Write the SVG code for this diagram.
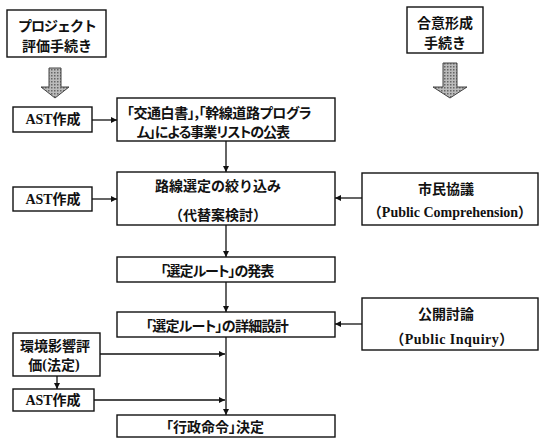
<svg xmlns="http://www.w3.org/2000/svg" width="540" height="440" viewBox="0 0 540 440">
<style>
.box{fill:#fff;stroke:#111;stroke-width:1.4}
.t{font-family:"Noto Sans CJK JP","Noto Sans CJK SC",sans-serif;font-weight:bold;font-size:14px;fill:#111;text-anchor:middle;dominant-baseline:central}
.p{font-feature-settings:"palt" 1}
.s{font-family:"Liberation Serif","Noto Sans CJK JP",serif;font-weight:bold;font-size:14px;fill:#111;text-anchor:middle;dominant-baseline:central}
.ln{stroke:#111;stroke-width:1.3;fill:none}
.garrow{fill:url(#dots);stroke:#444;stroke-width:1}
</style>
<defs>
<marker id="ah" viewBox="0 0 10 10" refX="10" refY="5" markerWidth="6" markerHeight="6" markerUnits="userSpaceOnUse" orient="auto">
<path d="M0,0 L10,5 L0,10 z" fill="#111"/>
</marker>
<pattern id="dots" width="3" height="3" patternUnits="userSpaceOnUse">
<rect width="3" height="3" fill="#bbb"/>
<rect width="1.5" height="1.5" fill="#666"/>
</pattern>
</defs>

<g id="proj">
<rect class="box" x="7" y="10" width="99" height="47"/>
<text class="t" x="57" y="25" font-size="15" letter-spacing="-1">プロジェクト</text>
<text class="t" x="57" y="45" font-size="16">評価手続き</text>
</g>
<g id="gousei">
<rect class="box" x="407" y="7" width="76" height="46"/>
<text class="t" x="445" y="22">合意形成</text>
<text class="t" x="445" y="42" font-size="13">手続き</text>
</g>
<g id="garrow-left">
<path class="garrow" d="M49,68 H61 V87 H69 L55,98 L41,87 H49 Z"/>
</g>
<g id="garrow-right">
<path class="garrow" d="M443,63 H457 V87 H467 L450,98 L433,87 H443 Z"/>
</g>

<g id="ast1">
<rect class="box" x="13" y="107" width="79" height="25"/>
<text class="s" x="53" y="119.5">AST作成</text>
</g>
<g id="box1">
<rect class="box" x="117" y="98" width="218" height="43"/>
<text class="t p" x="219" y="112" letter-spacing="-0.4">「交通白書」,「幹線道路プログラ</text>
<text class="t p" x="213" y="131" font-size="13.5" letter-spacing="-1">ム」による事業リストの公表</text>
</g>
<g id="ast2">
<rect class="box" x="13" y="187" width="79" height="24"/>
<text class="s" x="53" y="199">AST作成</text>
</g>
<g id="box2">
<rect class="box" x="117" y="172" width="218" height="53"/>
<text class="t" x="218" y="185">路線選定の絞り込み</text>
<text class="t" x="218" y="214">（代替案検討）</text>
</g>
<g id="shimin">
<rect class="box" x="362" y="173" width="176" height="52"/>
<text class="t" x="446" y="188">市民協議</text>
<text class="s" x="450" y="212" font-size="16">（Public Comprehension）</text>
</g>
<g id="box3">
<rect class="box" x="117" y="257" width="218" height="25"/>
<text class="t p" x="217" y="269.5" font-size="13" letter-spacing="-1">「選定ルート」の発表</text>
</g>
<g id="box4">
<rect class="box" x="117" y="312" width="218" height="25"/>
<text class="t p" x="217" y="324.5" letter-spacing="-0.7">「選定ルート」の詳細設計</text>
</g>
<g id="koukai">
<rect class="box" x="362" y="298" width="176" height="52"/>
<text class="t" x="446" y="313">公開討論</text>
<text class="s" x="452" y="339" font-size="16" letter-spacing="0.5">（Public Inquiry）</text>
</g>
<g id="env">
<rect class="box" x="13" y="333" width="87" height="43"/>
<text class="t" x="55" y="345" font-size="14.5">環境影響評</text>
<text class="t" x="54" y="364" font-size="14.5">価<tspan font-family="Liberation Serif">(</tspan>法定<tspan font-family="Liberation Serif">)</tspan></text>
</g>
<g id="ast3">
<rect class="box" x="13" y="389" width="81" height="22"/>
<text class="s" x="53" y="400">AST作成</text>
</g>
<g id="box5">
<rect class="box" x="117" y="415" width="218" height="22"/>
<text class="t p" x="215" y="426">「行政命令」決定</text>
</g>

<g id="connectors">
<line class="ln" x1="92" y1="120" x2="117" y2="120" marker-end="url(#ah)"/>
<line class="ln" x1="92" y1="199" x2="117" y2="199" marker-end="url(#ah)"/>
<line class="ln" x1="226" y1="141" x2="226" y2="172" marker-end="url(#ah)"/>
<line class="ln" x1="362" y1="198" x2="335" y2="198" marker-end="url(#ah)"/>
<line class="ln" x1="226" y1="225" x2="226" y2="257" marker-end="url(#ah)"/>
<line class="ln" x1="226" y1="282" x2="226" y2="312" marker-end="url(#ah)"/>
<line class="ln" x1="362" y1="324" x2="335" y2="324" marker-end="url(#ah)"/>
<line class="ln" x1="226" y1="337" x2="226" y2="415" marker-end="url(#ah)"/>
<line class="ln" x1="100" y1="354" x2="225" y2="354" marker-end="url(#ah)"/>
<line class="ln" x1="57" y1="376" x2="57" y2="389" marker-end="url(#ah)"/>
<line class="ln" x1="94" y1="400" x2="225" y2="400" marker-end="url(#ah)"/>
</g>
</svg>
